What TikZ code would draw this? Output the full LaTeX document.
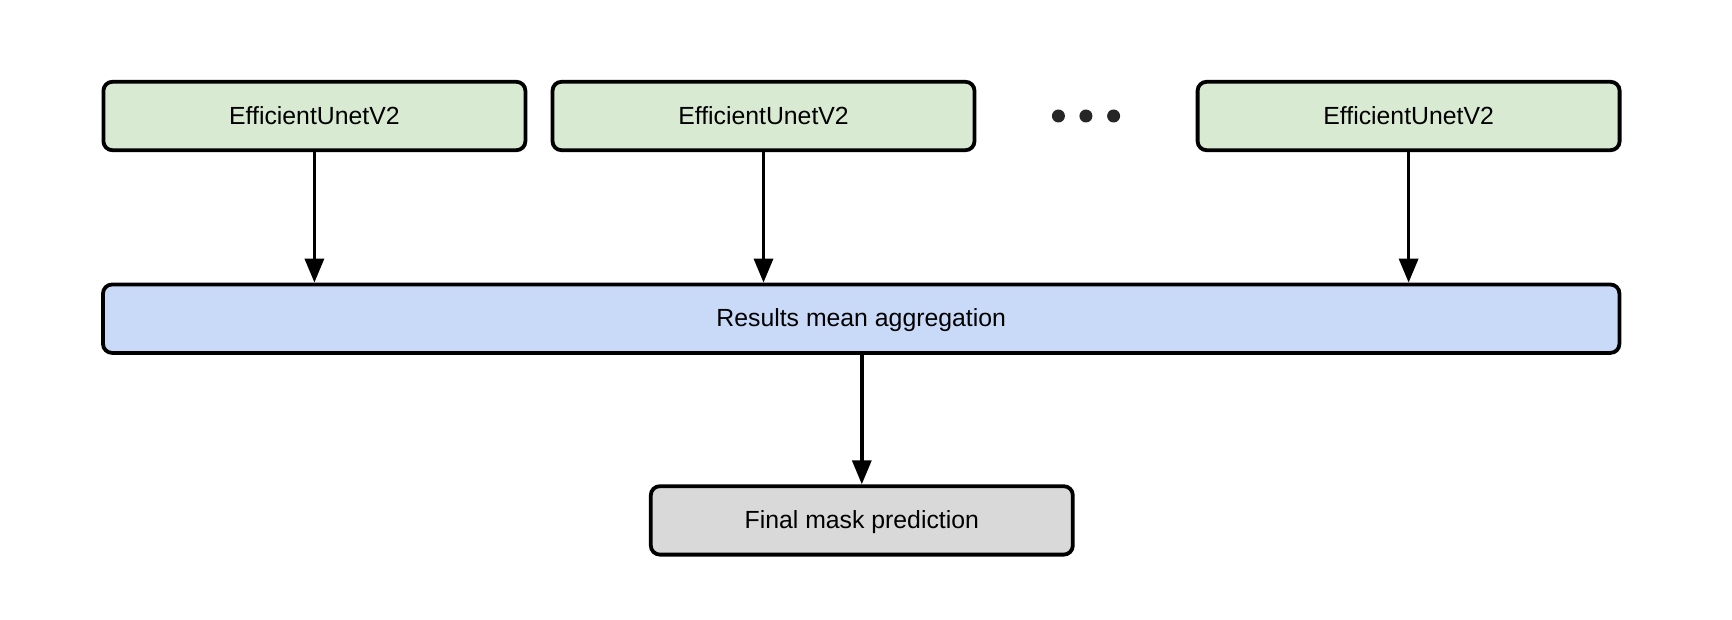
\documentclass[tikz,border=0pt]{standalone}
\usepackage{fontspec}
\setmainfont{Liberation Sans}
\usetikzlibrary{arrows.meta}
\definecolor{boxgreen}{HTML}{D9EAD3}
\definecolor{boxblue}{HTML}{C9DAF8}
\definecolor{boxgray}{HTML}{D9D9D9}
\tikzset{
  box/.style={draw=black, line width=1.9pt, rounded corners=4.5pt, inner sep=0pt,
    minimum width=211pt, minimum height=34.2pt, text height=9pt, text depth=0.8pt,
    font=\fontsize{12.4}{15}\selectfont, text=black},
  model/.style={box, fill=boxgreen},
  agg/.style={box, fill=boxblue, minimum width=758.2pt},
  final/.style={box, fill=boxgray},
  conn/.style={line width=1.7pt, -{Triangle[width=9.5pt,length=12pt]}},
  dot/.style={circle, fill=black!85, inner sep=0pt, minimum size=6.5pt}
}
\begin{document}
\begin{tikzpicture}[x=0.5pt,y=-0.5pt]
\useasboundingbox (0,0) rectangle (1732,620);
\node[model] (m1) at (314.4,116) {EfficientUnetV2};
\node[model] (m2) at (763.5,116) {EfficientUnetV2};
\node[model] (m3) at (1408.6,116) {EfficientUnetV2};
\node[dot] (d1) at (1058.4,116) {};
\node[dot] (d2) at (1085.9,116) {};
\node[dot] (d3) at (1113.6,116) {};
\node[agg] (agg) at (861.2,318.7) {Results mean aggregation};
\node[final] (fin) at (861.8,520.4) {Final mask prediction};
\draw[conn] (m1.south) -- (m1.south |- agg.north);
\draw[conn] (m2.south) -- (m2.south |- agg.north);
\draw[conn] (m3.south) -- (m3.south |- agg.north);
\draw[conn] (agg.south -| fin.north) -- (fin.north);
\end{tikzpicture}
\end{document}
